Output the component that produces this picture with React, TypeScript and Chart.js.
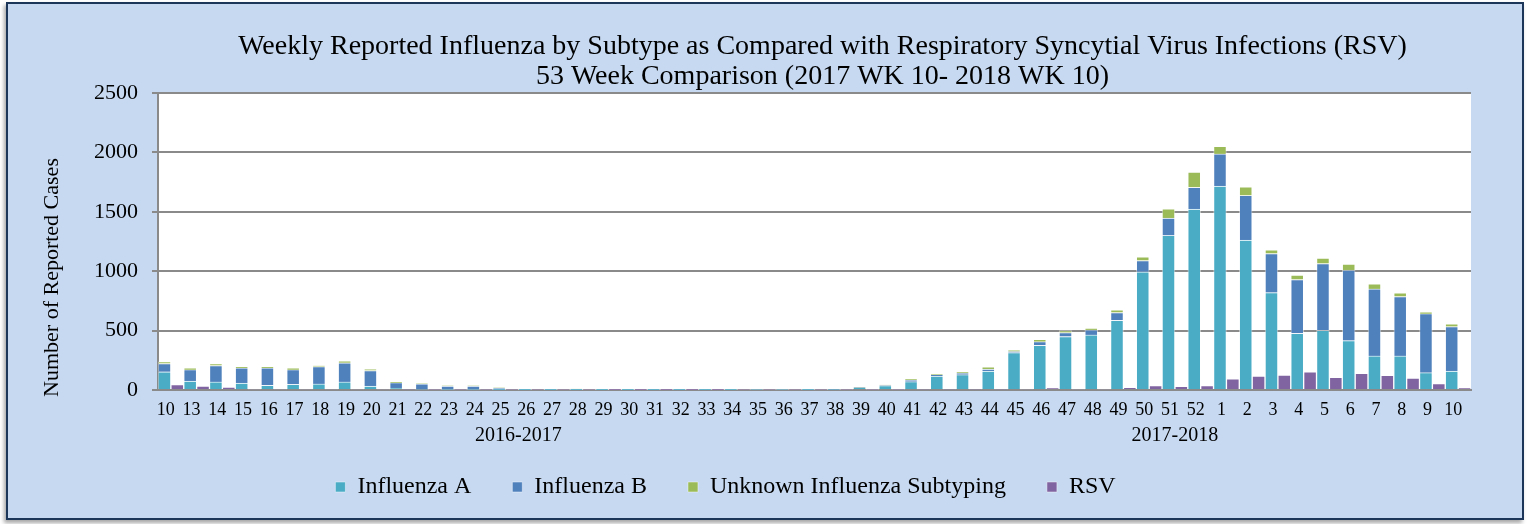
import React, { useEffect, useRef } from "react";
import { Chart, registerables } from "chart.js";

Chart.register(...registerables);

const weeks = [
  "10", "13", "14", "15", "16", "17", "18", "19", "20", "21", "22", "23", "24", "25", "26", "27",
  "28", "29", "30", "31", "32", "33", "34", "35", "36", "37", "38", "39", "40", "41", "42", "43",
  "44", "45", "46", "47", "48", "49", "50", "51", "52", "1", "2", "3", "4", "5", "6", "7", "8", "9", "10",
];

const influenzaA = [
  153, 76, 68, 59, 40, 48, 51, 68, 34, 17, 6, 5, 4, 3, 3, 2,
  2, 3, 2, 2, 2, 3, 3, 4, 4, 3, 5, 18, 38, 70, 118, 129,
  160, 315, 377, 450, 464, 587, 995, 1301, 1523, 1717, 1262, 820, 478, 503, 416, 287, 287, 146, 160,
];

const influenzaB = [
  70, 96, 138, 127, 146, 124, 147, 161, 130, 45, 45, 29, 30, 14, 3, 3,
  5, 2, 1, 1, 1, 1, 1, 1, 1, 1, 1, 2, 2, 14, 11, 14,
  17, 9, 30, 33, 42, 65, 95, 146, 183, 270, 376, 329, 452, 562, 593, 564, 500, 497, 374,
];

const unknownSubtyping = [
  14, 12, 14, 9, 9, 14, 5, 17, 11, 6, 3, 2, 2, 1, 1, 0,
  1, 1, 2, 0, 0, 0, 1, 0, 0, 0, 0, 2, 2, 9, 6, 9,
  17, 10, 20, 17, 14, 22, 31, 79, 129, 64, 73, 31, 37, 45, 50, 43, 31, 12, 22,
];

const rsvCases = [
  45, 34, 25, 8, 8, 8, 8, 8, 8, 6, 5, 5, 5, 5, 4, 4,
  4, 3, 3, 3, 3, 3, 4, 4, 4, 5, 5, 5, 5, 6, 6, 7,
  7, 8, 14, 8, 8, 20, 37, 31, 37, 93, 118, 126, 152, 107, 140, 124, 101, 53, 14,
];

const yTickValues = [0, 500, 1000, 1500, 2000, 2500];

const seasonLabels = ["2016-2017", "2017-2018"];
const seasonFirstIndex = [0, 28];
const seasonLastIndex = [27, 50];

const titleLines = [
  "Weekly Reported Influenza by Subtype as Compared with Respiratory Syncytial Virus Infections (RSV)",
  "53 Week Comparison (2017 WK 10- 2018 WK 10)",
];
const yAxisTitle = "Number of Reported Cases";

const FONT = "'Liberation Serif', 'DejaVu Serif', serif";

const decorPlugin = {
  id: "decor",
  beforeDraw(chart: any) {
    const { ctx, chartArea } = chart;
    ctx.save();
    ctx.fillStyle = "#ffffff";
    ctx.fillRect(chartArea.left, chartArea.top, chartArea.right - chartArea.left, chartArea.bottom - chartArea.top);
    ctx.restore();
  },
  afterDraw(chart: any) {
    const { ctx, chartArea } = chart;
    const xScale = chart.scales.x;
    ctx.save();
    ctx.fillStyle = "#000000";
    ctx.textAlign = "center";
    ctx.textBaseline = "middle";
    // title
    const cx = (chartArea.left + chartArea.right) / 2 + 8;
    ctx.font = `28px ${FONT}`;
    ctx.fillText(titleLines[0], cx, chartArea.top - 46);
    ctx.fillText(titleLines[1], cx, chartArea.top - 16);
    // season group labels
    ctx.font = `20px ${FONT}`;
    seasonLabels.forEach((label, i) => {
      const a = xScale.getPixelForValue(seasonFirstIndex[i]);
      const b = xScale.getPixelForValue(seasonLastIndex[i]);
      ctx.fillText(label, (a + b) / 2, chartArea.bottom + 46);
    });
    // y axis title
    ctx.translate(52, (chartArea.top + chartArea.bottom) / 2 + 36);
    ctx.rotate(-Math.PI / 2);
    ctx.font = `22px ${FONT}`;
    ctx.fillText(yAxisTitle, 0, 0);
    ctx.restore();
  },
};

export default function App() {
  const canvasRef = useRef<HTMLCanvasElement | null>(null);

  useEffect(() => {
    document.body.style.margin = "0";
    const canvas = canvasRef.current;
    if (!canvas) return;
    const barBorder = "rgba(255,255,255,0.45)";
    const chart = new Chart(canvas, {
      type: "bar",
      data: {
        labels: weeks,
        datasets: [
          { label: "Influenza A", data: influenzaA, backgroundColor: "#4BACC6", borderColor: barBorder, borderWidth: 1, stack: "flu" },
          { label: "Influenza B", data: influenzaB, backgroundColor: "#4F81BD", borderColor: barBorder, borderWidth: 1, stack: "flu" },
          { label: "Unknown Influenza Subtyping", data: unknownSubtyping, backgroundColor: "#9BBB59", borderColor: barBorder, borderWidth: 1, stack: "flu" },
          { label: "RSV", data: rsvCases, backgroundColor: "#8064A2", borderColor: barBorder, borderWidth: 1, stack: "rsv" },
        ],
      },
      options: {
        responsive: false,
        animation: false,
        devicePixelRatio: 1,
        datasets: { bar: { categoryPercentage: 1, barPercentage: 1 } },
        layout: { padding: { left: -20, right: 59, top: 93, bottom: 15 } },
        plugins: {
          title: { display: false },
          tooltip: { enabled: false },
          legend: {
            position: "bottom",
            labels: {
              boxWidth: 10,
              boxHeight: 10,
              padding: 41,
              color: "#000000",
              font: { family: FONT, size: 24 },
            },
          },
        },
        scales: {
          x: {
            stacked: true,
            afterFit: (scale: any) => {
              scale.height = 44;
            },
            grid: { display: false, drawTicks: false },
            border: { display: true, color: "#8a8a8a", width: 2 },
            ticks: {
              color: "#000000",
              font: { family: FONT, size: 18 },
              padding: 9,
              labelOffset: -5,
              maxRotation: 0,
              autoSkip: false,
            },
          },
          y: {
            stacked: true,
            min: 0,
            max: 2500,
            afterFit: (scale: any) => {
              scale.width = 178;
            },
            afterBuildTicks: (scale: any) => {
              scale.ticks = yTickValues.map((v) => ({ value: v }));
            },
            grid: { color: "#8a8a8a", lineWidth: 2, tickLength: 6, tickColor: "#8a8a8a" },
            border: { display: true, color: "#8a8a8a", width: 2 },
            ticks: {
              color: "#000000",
              font: { family: FONT, size: 22 },
              padding: 14,
              callback: (value: any) => String(value),
            },
          },
        },
      },
      plugins: [decorPlugin],
    });
    return () => chart.destroy();
  }, []);

  return (
    <div style={{ position: "relative", width: 1530, height: 524, overflow: "hidden", background: "#ffffff" }}>
      <div
        style={{
          position: "absolute",
          left: 6,
          top: 2,
          width: 1518,
          height: 518,
          boxSizing: "border-box",
          border: "2px solid #1c3659",
          background: "#C6D9F1",
          boxShadow: "-2px 3px 4px rgba(0,0,0,0.35)",
        }}
      />
      <canvas ref={canvasRef} width={1530} height={524} style={{ position: "absolute", left: 0, top: 0 }} />
    </div>
  );
}
